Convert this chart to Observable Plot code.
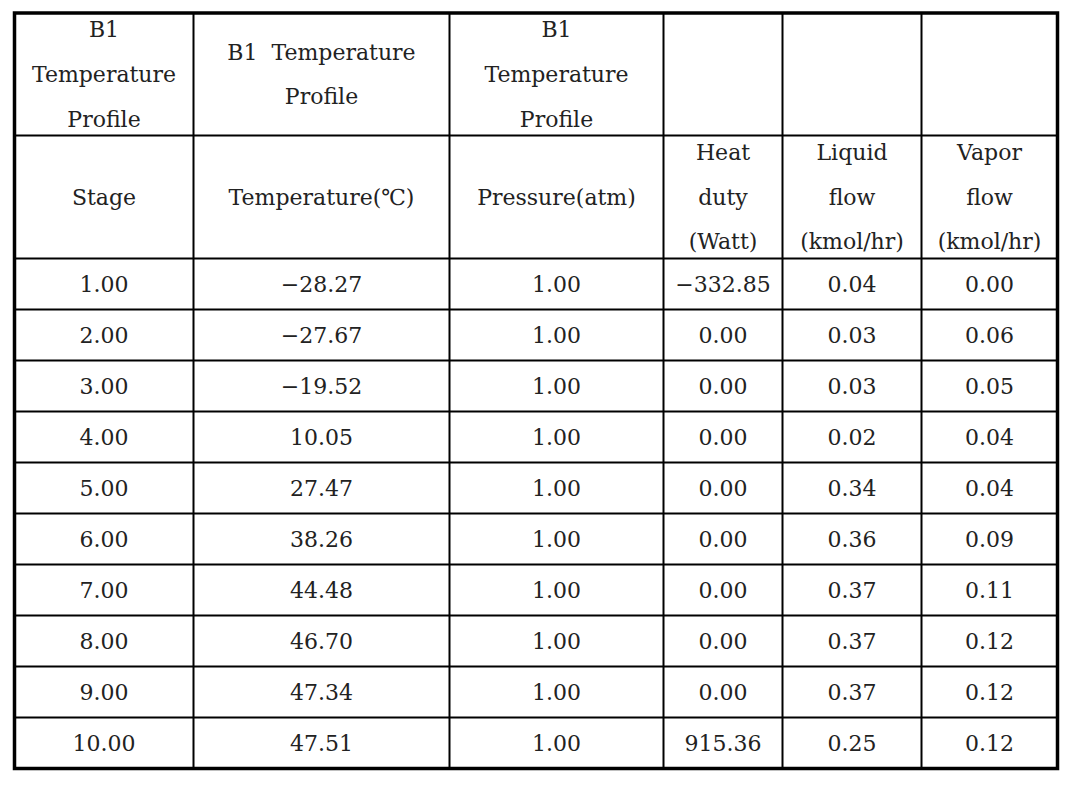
<!DOCTYPE html>
<html><head><meta charset="utf-8">
<script src="https://cdn.jsdelivr.net/npm/d3@7"></script>
<script src="https://cdn.jsdelivr.net/npm/@observablehq/plot@0.6"></script>
<style>html,body{margin:0;padding:0;background:#fff}</style>
</head><body><div id="chart"></div>
<script>
// ---- data ----
const groupHeaders = ["B1\nTemperature\nProfile", "B1\u00a0\u00a0Temperature\nProfile", "B1\nTemperature\nProfile", "", "", ""];
const columnHeaders = ["Stage", "Temperature(℃)", "Pressure(atm)", "Heat\nduty\n(Watt)", "Liquid\nflow\n(kmol/hr)", "Vapor\nflow\n(kmol/hr)"];
const stages = [1, 2, 3, 4, 5, 6, 7, 8, 9, 10];
const temperature = [-28.27, -27.67, -19.52, 10.05, 27.47, 38.26, 44.48, 46.70, 47.34, 47.51];
const pressure = [1.00, 1.00, 1.00, 1.00, 1.00, 1.00, 1.00, 1.00, 1.00, 1.00];
const heatDuty = [-332.85, 0.00, 0.00, 0.00, 0.00, 0.00, 0.00, 0.00, 0.00, 915.36];
const liquidFlow = [0.04, 0.03, 0.03, 0.02, 0.34, 0.36, 0.37, 0.37, 0.37, 0.25];
const vaporFlow = [0.00, 0.06, 0.05, 0.04, 0.04, 0.09, 0.11, 0.12, 0.12, 0.12];

// ---- layout (table geometry, in table units) ----
const colWidths = [179, 256, 214, 119, 139, 136];
const headerHeights = [122.5, 123];
const dataRowHeight = 51;

const columns = [stages, temperature, pressure, heatDuty, liquidFlow, vaporFlow];
const fmt = v => v.toFixed(2).replace("-", "\u2212");

const colEdges = [0, ...d3.cumsum(colWidths)];
const rowHeights = [...headerHeights, ...stages.map(() => dataRowHeight)];
const rowEdges = [0, ...d3.cumsum(rowHeights)];
const W = colEdges[colEdges.length - 1];
const H = rowEdges[rowEdges.length - 1];
const colMid = i => (colEdges[i] + colEdges[i + 1]) / 2;
const rowMid = j => (rowEdges[j] + rowEdges[j + 1]) / 2;

const cells = [];
groupHeaders.forEach((t, i) => cells.push({x: colMid(i), y: rowMid(0), text: t}));
columnHeaders.forEach((t, i) => cells.push({x: colMid(i), y: rowMid(1), text: t}));
stages.forEach((_, r) => columns.forEach((col, i) => cells.push({x: colMid(i), y: rowMid(r + 2), text: fmt(col[r])})));

const chart = Plot.plot({
  width: 1066,
  height: 788,
  marginLeft: 14,
  marginRight: 9,
  marginTop: 12.5,
  marginBottom: 20,
  x: {domain: [0, W], axis: null},
  y: {domain: [0, H], reverse: true, axis: null},
  style: {background: "#fff"},
  marks: [
    Plot.ruleX(colEdges.slice(1, -1), {y1: 0, y2: H, stroke: "#000", strokeWidth: 2}),
    Plot.ruleY(rowEdges.slice(1, -1), {x1: 0, x2: W, stroke: "#000", strokeWidth: 2}),
    Plot.frame({stroke: "#000", strokeWidth: 3.5}),
    Plot.text(cells, {x: "x", y: "y", text: "text", fontSize: 22, fontFamily: "DejaVu Serif", lineHeight: 2.03, fill: "#222", textAnchor: "middle", dy: -6.5})
  ]
});
document.getElementById("chart").append(chart);
</script>
</body></html>
